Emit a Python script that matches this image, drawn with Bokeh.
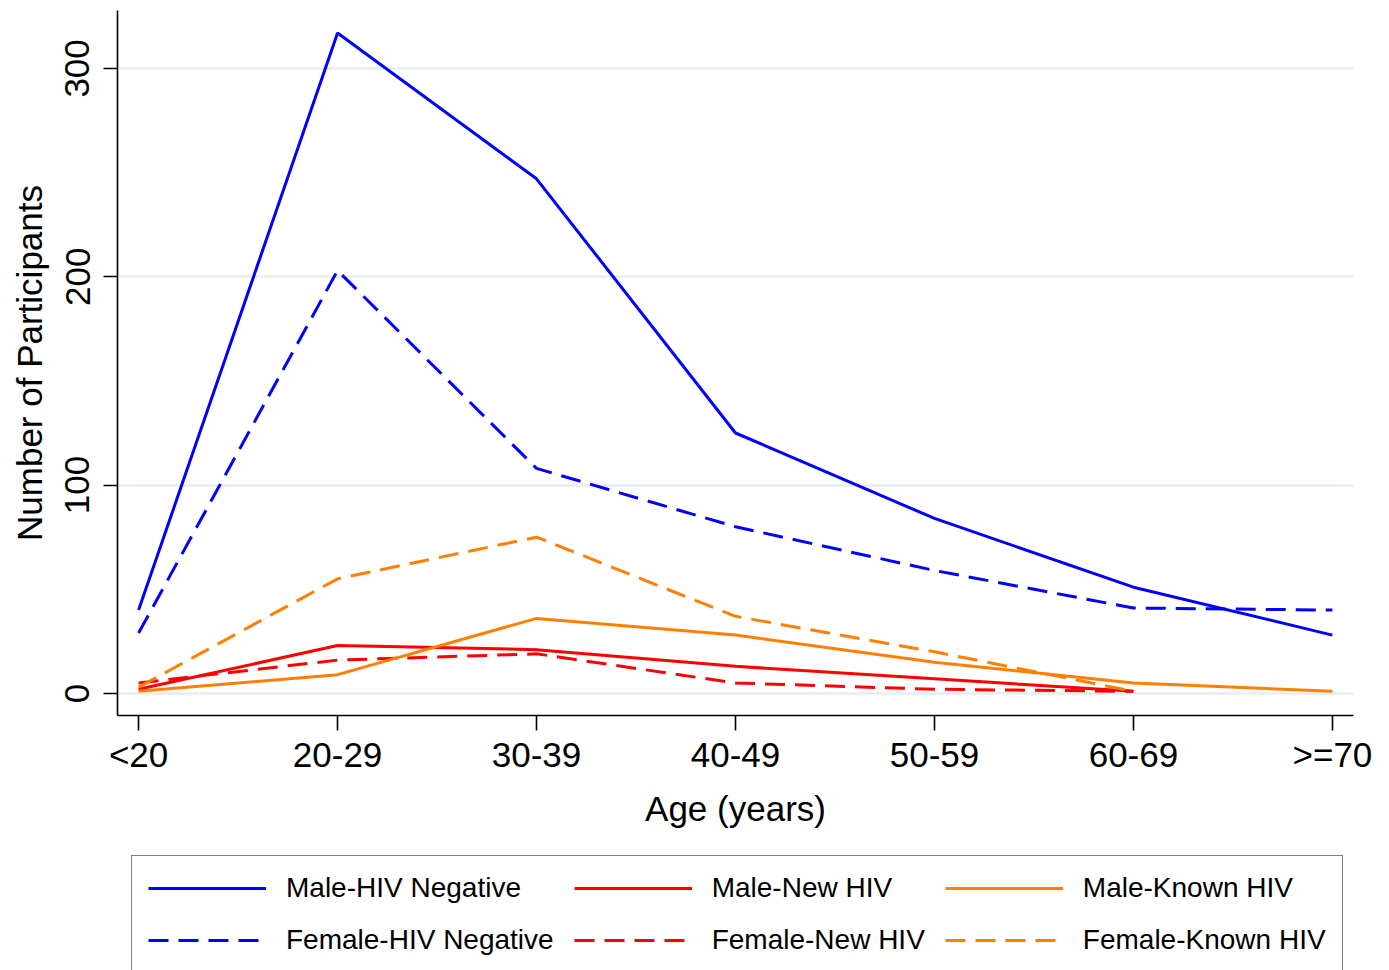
from bokeh.plotting import figure
from bokeh.models import Range1d, FixedTicker, Legend, LegendItem
from bokeh.layouts import column
from bokeh.embed import file_html
from bokeh.resources import INLINE

# ---- data ----
age_groups = ["<20", "20-29", "30-39", "40-49", "50-59", "60-69", ">=70"]
male_hiv_negative = [40, 317, 247, 125, 84, 51, 28]
female_hiv_negative = [29, 203, 108, 80, 59, 41, 40]
male_new_hiv = [2, 23, 21, 13, 7, 1]
female_new_hiv = [5, 16, 19, 5, 2, 1]
male_known_hiv = [1, 9, 36, 28, 15, 5, 1]
female_known_hiv = [3, 55, 75, 37, 20, 1]
y_ticks = [0, 100, 200, 300]

FONT = "Liberation Sans"
BLUE = "#0000ff"
RED = "#ff0000"
ORANGE = "#ff8000"

p = figure(frame_width=1236, frame_height=705, output_backend="svg", toolbar_location=None,
           x_range=Range1d(-0.106, 6.106), y_range=Range1d(-10.6, 327.8),
           min_border_left=117, min_border_right=36, min_border_top=10,
           min_border_bottom=0)
p.outline_line_color = None
p.background_fill_color = "white"

# column-first ordering for the legend grid
series = [
    ("Male-HIV Negative", male_hiv_negative, BLUE, "solid"),
    ("Female-HIV Negative", female_hiv_negative, BLUE, "20 10"),
    ("Male-New HIV", male_new_hiv, RED, "solid"),
    ("Female-New HIV", female_new_hiv, RED, "20 10"),
    ("Male-Known HIV", male_known_hiv, ORANGE, "solid"),
    ("Female-Known HIV", female_known_hiv, ORANGE, "20 10"),
]

for name, vals, col, dash in series:
    xs = list(range(len(vals)))
    p.line(xs, vals, line_color=col, line_width=3, line_dash=dash)

# axes
for ax in (p.xaxis[0], p.yaxis[0]):
    ax.axis_line_color = "black"
    ax.axis_line_width = 1.6
    ax.major_tick_line_color = "black"
    ax.major_tick_line_width = 1.6
    ax.major_tick_in = 0
    ax.minor_tick_line_color = None
    ax.major_label_text_font = FONT
    ax.major_label_text_color = "black"
    ax.axis_label_text_font = FONT
    ax.axis_label_text_font_style = "normal"
    ax.axis_label_text_color = "black"

p.xaxis.ticker = FixedTicker(ticks=list(range(len(age_groups))))
p.xaxis.major_label_overrides = {i: lab for i, lab in enumerate(age_groups)}
p.xaxis.major_tick_out = 15
p.xaxis.major_label_text_font_size = "35px"
p.xaxis.major_label_standoff = 4
p.xaxis.axis_label = "Age (years)"
p.xaxis.axis_label_text_font_size = "35px"
p.xaxis.axis_label_standoff = 12

p.yaxis.ticker = FixedTicker(ticks=y_ticks)
p.yaxis.major_tick_out = 14
p.yaxis.major_label_orientation = "vertical"
p.yaxis.major_label_text_font_size = "35px"
p.yaxis.major_label_standoff = 14
p.yaxis.axis_label = "Number of Participants"
p.yaxis.axis_label_text_font_size = "35px"
p.yaxis.axis_label_standoff = 14

p.xgrid.grid_line_color = None
p.ygrid.grid_line_color = "#e6eef1"
p.ygrid.grid_line_width = 2.5

# ---- legend strip below the chart (frame aligned with the chart's frame) ----
q = figure(frame_width=1236, frame_height=140, output_backend="svg", toolbar_location=None,
           x_range=Range1d(-0.106, 6.106), y_range=Range1d(-1000, -990),
           x_axis_location=None, y_axis_location=None,
           min_border_left=117, min_border_right=36, min_border_top=11,
           min_border_bottom=0)
q.outline_line_color = None
for g in q.grid:
    g.grid_line_color = None

items = []
for name, vals, col, dash in series:
    xs = list(range(len(vals)))
    r = q.line(xs, vals, line_color=col, line_width=3, line_dash=dash)
    items.append(LegendItem(label=name, renderers=[r]))

legend = Legend(items=items, location="top_left", ncols=3,
                glyph_width=118, glyph_height=30, label_standoff=20, spacing=20,
                padding=16, margin=14, label_text_font=FONT, label_text_font_size="28px",
                label_text_color="black",
                border_line_color="black", border_line_width=1.5,
                background_fill_alpha=1.0)
q.add_layout(legend, "center")

open("out.html", "w").write(file_html(column(p, q), INLINE))
